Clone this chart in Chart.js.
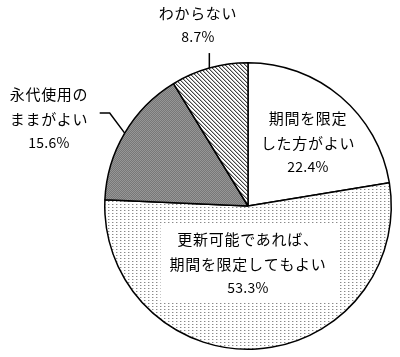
<!DOCTYPE html>
<html>
<head>
<meta charset="utf-8">
<script src="https://cdn.jsdelivr.net/npm/chart.js@4"></script>
<style>
  html, body { margin: 0; padding: 0; background: #fff; }
  #wrap { width: 400px; height: 357px; position: relative; }
</style>
</head>
<body>
<div id="wrap"><canvas id="c" width="400" height="357"></canvas></div>
<script>
// Survey answers on limiting the burial-plot usage period (share, %)
const categories = ['期間を限定した方がよい', '更新可能であれば、期間を限定してもよい', '永代使用のままがよい', 'わからない'];
const labelLines = [['期間を限定', 'した方がよい'], ['更新可能であれば、', '期間を限定してもよい'], ['永代使用の', 'ままがよい'], ['わからない']];
const shares = [22.4, 53.3, 15.6, 8.7];

// small tiled fills
function tile(w, h, paint) {
  const c = document.createElement('canvas');
  c.width = w; c.height = h;
  const g = c.getContext('2d');
  paint(g);
  return document.getElementById('c').getContext('2d').createPattern(c, 'repeat');
}
const dotFill = tile(4, 3, g => {
  g.fillStyle = '#fff'; g.fillRect(0, 0, 4, 3);
  g.fillStyle = '#8a8a8a'; g.fillRect(0, 0, 1, 1);
  g.fillStyle = '#cfcfcf'; g.fillRect(1, 0, 1, 1);
});
const hatchFill = tile(4, 4, g => {
  g.fillStyle = '#fff'; g.fillRect(0, 0, 4, 4);
  for (let y = 0; y < 4; y++) {
    g.fillStyle = '#444'; g.fillRect(y % 4, y, 1, 1);
    g.fillStyle = '#b8b8b8'; g.fillRect((y + 1) % 4, y, 1, 1);
  }
});
const greyFill = tile(2, 2, g => {
  g.fillStyle = '#777'; g.fillRect(0, 0, 2, 2);
  g.fillStyle = '#969696'; g.fillRect(0, 0, 1, 1); g.fillRect(1, 1, 1, 1);
});

const FONT = '"Noto Sans CJK JP", "Noto Sans", sans-serif';

// text placement relative to the pie centre: [dx, dy of first line, leader?]
const textPlace = [
  { dx: 60, dy: -88 },
  { dx: 0, dy: 33, box: true },
  { dx: -199, dy: -112, leader: 'elbow' },
  { dx: -50, dy: -193, leader: 'vertical' }
];

const labelPlugin = {
  id: 'sliceLabels',
  afterDatasetsDraw(chart) {
    const ctx = chart.ctx;
    const arcs = chart.getDatasetMeta(0).data;
    const ds = chart.data.datasets[0].data;
    ctx.save();
    ctx.textAlign = 'center';
    ctx.textBaseline = 'middle';
    ctx.fillStyle = '#000';
    arcs.forEach((arc, i) => {
      const p = textPlace[i];
      const cx = arc.x, cy = arc.y, R = arc.outerRadius;
      const x = cx + p.dx, y0 = cy + p.dy;
      const lines = labelLines[i];
      const step = 25;
      ctx.font = '15px ' + FONT;
      ctx.letterSpacing = '0.7px';
      if (p.box) {
        let w = 0;
        lines.forEach(t => { w = Math.max(w, ctx.measureText(t).width); });
        const top = y0 - 16, bottom = y0 + step * lines.length + 14;
        ctx.fillStyle = '#fff';
        ctx.fillRect(x - w / 2 - 9, top, w + 22, bottom - top);
        ctx.fillStyle = '#000';
      }
      lines.forEach((t, k) => ctx.fillText(t, x, y0 + k * step));
      ctx.font = '14px ' + FONT;
      ctx.letterSpacing = '0.3px';
      ctx.fillText(ds[i].toFixed(1) + '%', x, y0 + lines.length * step - 1);

      // leader lines from slice midpoints on the rim
      if (p.leader) {
        const mid = (arc.startAngle + arc.endAngle) / 2;
        const ex = cx + Math.cos(mid) * R, ey = cy + Math.sin(mid) * R;
        ctx.strokeStyle = '#000';
        ctx.lineWidth = 1.5;
        ctx.beginPath();
        if (p.leader === 'vertical') {
          ctx.moveTo(ex, ey);
          ctx.lineTo(ex, ey - 15);
        } else {
          ctx.moveTo(ex, ey);
          ctx.lineTo(ex - 15, ey - 20);
          ctx.lineTo(ex - 25, ey - 20);
        }
        ctx.stroke();
      }
    });
    ctx.restore();
  }
};

new Chart(document.getElementById('c'), {
  type: 'pie',
  data: {
    labels: categories,
    datasets: [{
      data: shares,
      backgroundColor: ['#ffffff', dotFill, greyFill, hatchFill],
      borderColor: '#000',
      borderWidth: 1.5,
      borderAlign: 'center'
    }]
  },
  options: {
    responsive: false,
    animation: false,
    devicePixelRatio: 1,
    layout: { padding: { left: 104, right: 8, top: 62, bottom: 7 } },
    plugins: { legend: { display: false }, tooltip: { enabled: false } }
  },
  plugins: [labelPlugin]
});
</script>
</body>
</html>
